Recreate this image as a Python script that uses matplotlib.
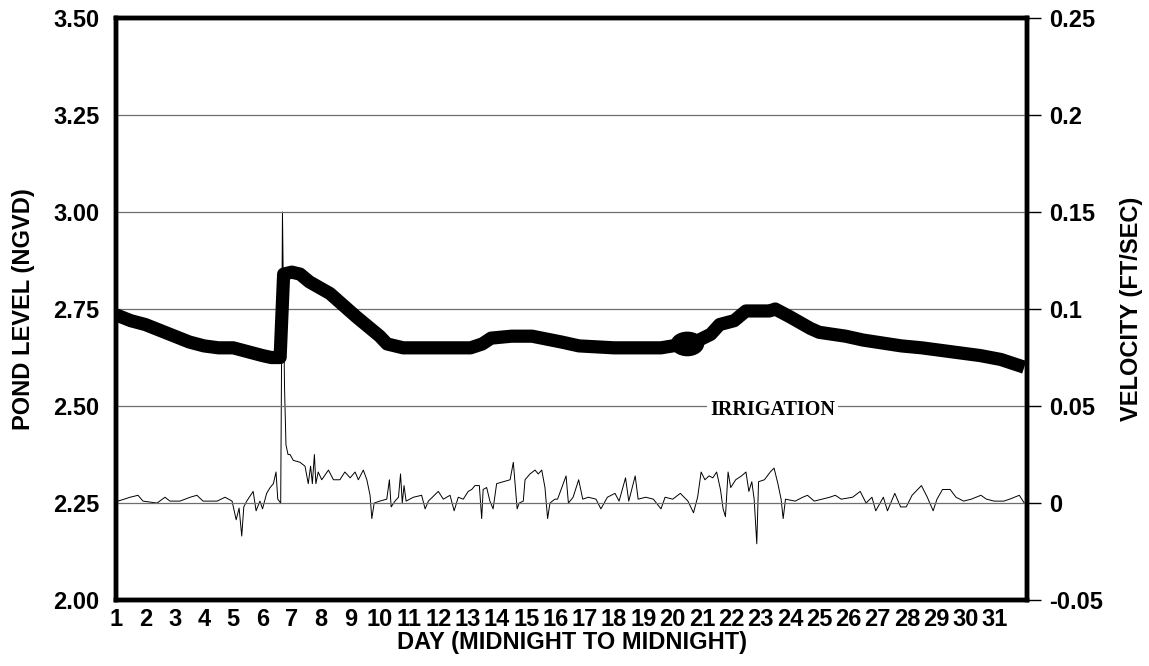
import matplotlib
matplotlib.use("Agg")
from matplotlib import pyplot as plt
from matplotlib.patches import Ellipse

plt.rcParams["font.family"] = ["Liberation Sans", "DejaVu Sans"]
plt.rcParams["font.weight"] = "bold"
plt.rcParams["axes.labelweight"] = "bold"

# pond stage over the month (day, ft NGVD)
level_day = [1.0, 1.5, 2.0, 2.5, 3.0, 3.5, 4.0, 4.5, 5.0, 5.5, 6.0, 6.3, 6.6,
             6.72, 7.0, 7.28, 7.6, 8.3, 9.2, 10.0, 10.25, 10.8, 12.0, 13.1,
             13.5, 13.8, 14.5, 15.2, 16.2, 16.8, 18.0, 19.6, 20.0, 20.5,
             20.9, 21.3, 21.6, 22.1, 22.5, 23.3, 23.5, 24.0, 24.7, 25.0,
             25.9, 26.5, 27.8, 28.5, 29.5, 30.5, 31.2, 31.6, 32.0]
level_ngvd = [2.735, 2.72, 2.71, 2.695, 2.68, 2.665, 2.655, 2.65, 2.65, 2.64,
              2.63, 2.625, 2.625, 2.84, 2.845, 2.84, 2.82, 2.79, 2.73, 2.68,
              2.66, 2.65, 2.65, 2.65, 2.66, 2.675, 2.68, 2.68, 2.665, 2.655,
              2.65, 2.65, 2.655, 2.66, 2.67, 2.685, 2.71, 2.72, 2.745, 2.745,
              2.75, 2.73, 2.70, 2.69, 2.68, 2.67, 2.655, 2.65, 2.64, 2.63,
              2.62, 2.61, 2.60]

# irrigation-ditch flow velocity (day, ft/sec)
vel_day = [1.0, 1.07, 1.48, 1.75, 1.92, 2.4, 2.67, 2.84, 3.18, 3.53, 3.76,
           3.97, 4.45, 4.72, 4.96, 5.1, 5.2, 5.29, 5.36, 5.46, 5.68, 5.78,
           5.91, 6.0, 6.14, 6.26, 6.37, 6.46, 6.52, 6.62, 6.68, 6.75, 6.8,
           6.87, 6.94, 7.05, 7.28, 7.45, 7.56, 7.64, 7.7, 7.77, 7.82, 7.9,
           8.02, 8.25, 8.42, 8.64, 8.81, 8.99, 9.16, 9.27, 9.44, 9.56, 9.67,
           9.73, 9.81, 10.0, 10.24, 10.33, 10.39, 10.52, 10.64, 10.71, 10.77,
           10.83, 10.9, 11.15, 11.43, 11.55, 11.66, 12.0, 12.17, 12.4, 12.54,
           12.68, 12.85, 13.02, 13.14, 13.25, 13.4, 13.48, 13.53, 13.65,
           13.76, 13.87, 13.99, 14.22, 14.45, 14.56, 14.62, 14.69, 14.76,
           14.9, 14.96, 15.13, 15.3, 15.41, 15.53, 15.64, 15.73, 15.81,
           15.98, 16.07, 16.36, 16.44, 16.6, 16.79, 16.93, 17.12, 17.38,
           17.55, 17.77, 18.03, 18.17, 18.39, 18.5, 18.72, 18.82, 19.08,
           19.34, 19.6, 19.74, 20.0, 20.26, 20.52, 20.71, 20.85, 20.97, 21.1,
           21.24, 21.37, 21.5, 21.63, 21.72, 21.8, 21.89, 21.98, 22.15,
           22.35, 22.5, 22.6, 22.7, 22.78, 22.87, 22.93, 23.13, 23.33, 23.46,
           23.59, 23.7, 23.77, 23.85, 24.18, 24.44, 24.6, 24.83, 25.1, 25.36,
           25.55, 25.75, 26.14, 26.4, 26.6, 26.8, 26.93, 27.19, 27.33, 27.58,
           27.78, 27.97, 28.17, 28.49, 28.69, 28.89, 29.02, 29.21, 29.47,
           29.67, 29.93, 30.19, 30.52, 30.71, 30.97, 31.3, 31.5, 31.83, 32.0]
vel_fps = [0.0, 0.001, 0.003, 0.004, 0.001, 0.0, 0.003, 0.001, 0.001, 0.003,
           0.004, 0.001, 0.001, 0.003, 0.001, -0.0086, -0.0026, -0.017,
           -0.002, 0.001, 0.006, -0.004, 0.001, -0.003, 0.005, 0.008, 0.010,
           0.016, 0.002, 0.0, 0.150, 0.060, 0.030, 0.025, 0.025, 0.022,
           0.021, 0.019, 0.010, 0.019, 0.010, 0.025, 0.010, 0.016, 0.012,
           0.017, 0.012, 0.012, 0.016, 0.013, 0.016, 0.012, 0.017, 0.012,
           0.004, -0.008, 0.0, 0.001, 0.002, 0.012, -0.002, 0.001, 0.003,
           0.015, 0.0, 0.009, 0.001, 0.003, 0.004, -0.003, 0.001, 0.006,
           0.002, 0.004, -0.004, 0.003, 0.002, 0.006, 0.007, 0.009, 0.009,
           -0.008, 0.007, 0.008, 0.001, -0.003, 0.010, 0.011, 0.012, 0.021,
           0.010, -0.003, 0.0, 0.001, 0.012, 0.015, 0.017, 0.015, 0.017,
           0.008, -0.008, 0.0, 0.002, 0.002, 0.014, 0.0, 0.003, 0.012, 0.002,
           0.003, 0.002, -0.003, 0.003, 0.005, 0.001, 0.013, 0.001, 0.014,
           0.002, 0.003, 0.002, -0.003, 0.003, 0.002, 0.005, 0.001, -0.005,
           0.003, 0.016, 0.012, 0.014, 0.013, 0.016, 0.007, -0.003, -0.007,
           0.016, 0.008, 0.012, 0.014, 0.016, 0.006, 0.011, 0.002, -0.021,
           0.011, 0.012, 0.016, 0.018, 0.010, 0.002, -0.008, 0.002, 0.001,
           0.003, 0.004, 0.001, 0.002, 0.003, 0.004, 0.002, 0.003, 0.006,
           0.0, 0.003, -0.004, 0.003, -0.004, 0.005, -0.002, -0.002, 0.004,
           0.009, 0.003, -0.004, 0.002, 0.007, 0.007, 0.003, 0.001, 0.002,
           0.004, 0.002, 0.001, 0.001, 0.002, 0.004, 0.0]

days = list(range(1, 32))
level_ticks = [2.00, 2.25, 2.50, 2.75, 3.00, 3.25, 3.50]
vel_ticks = [-0.05, 0, 0.05, 0.1, 0.15, 0.2, 0.25]
vel_tick_labels = ["-0.05", "0", "0.05", "0.1", "0.15", "0.2", "0.25"]

blob_day = 20.5
blob_level = level_ngvd[level_day.index(blob_day)]

fig = plt.figure(figsize=(11.49, 6.66), dpi=100)
ax = fig.add_axes([0.101, 0.099, 0.793, 0.874])
ax2 = ax.twinx()

ax.set_xlim(1, 32.1)
ax.set_ylim(2.0, 3.5)
ax2.set_ylim(-0.05, 0.25)

ax.set_yticks(level_ticks)
ax.set_yticklabels([f"{t:.2f}" for t in level_ticks])
ax.set_xticks(days)
ax.set_xticklabels([str(d) for d in days])
ax2.set_yticks(vel_ticks)
ax2.set_yticklabels(vel_tick_labels)

for t in level_ticks[1:-1]:
    ax.axhline(t, color="#6e6e6e", lw=0.9, zorder=1)

ax.tick_params(axis="y", length=0, pad=12, labelsize=17)
ax.tick_params(axis="x", length=0, pad=6, labelsize=17)
ax2.tick_params(axis="y", length=10, width=1, direction="out", pad=6,
                labelsize=17)

ax2.plot(vel_day, vel_fps, color="black", lw=0.7, zorder=2)
ax.plot(level_day, level_ngvd, color="black", lw=9.5, solid_capstyle="butt",
        solid_joinstyle="round", zorder=3)
ax.add_patch(Ellipse((blob_day, blob_level), width=1.1, height=0.06,
                     color="black", zorder=4))
ax.set_zorder(ax2.get_zorder() + 1)
ax.patch.set_visible(False)

ax.text(23.4, 2.49, "IRRIGATION", family=["Liberation Serif"],
        fontweight="bold", fontsize=14.5, ha="center", va="center",
        bbox=dict(facecolor="white", edgecolor="none", pad=2), zorder=5)

for spine in ax.spines.values():
    spine.set_linewidth(3.2)
for spine in ax2.spines.values():
    spine.set_linewidth(3.2)

ax.set_xlabel("DAY (MIDNIGHT TO MIDNIGHT)", fontsize=17, fontweight="bold",
              labelpad=0)
ax.set_ylabel("POND LEVEL (NGVD)", fontsize=17, fontweight="bold", labelpad=13)
ax2.set_ylabel("VELOCITY (FT/SEC)", fontsize=17, fontweight="bold",
               labelpad=12)

fig.savefig("out.png", dpi=100)
